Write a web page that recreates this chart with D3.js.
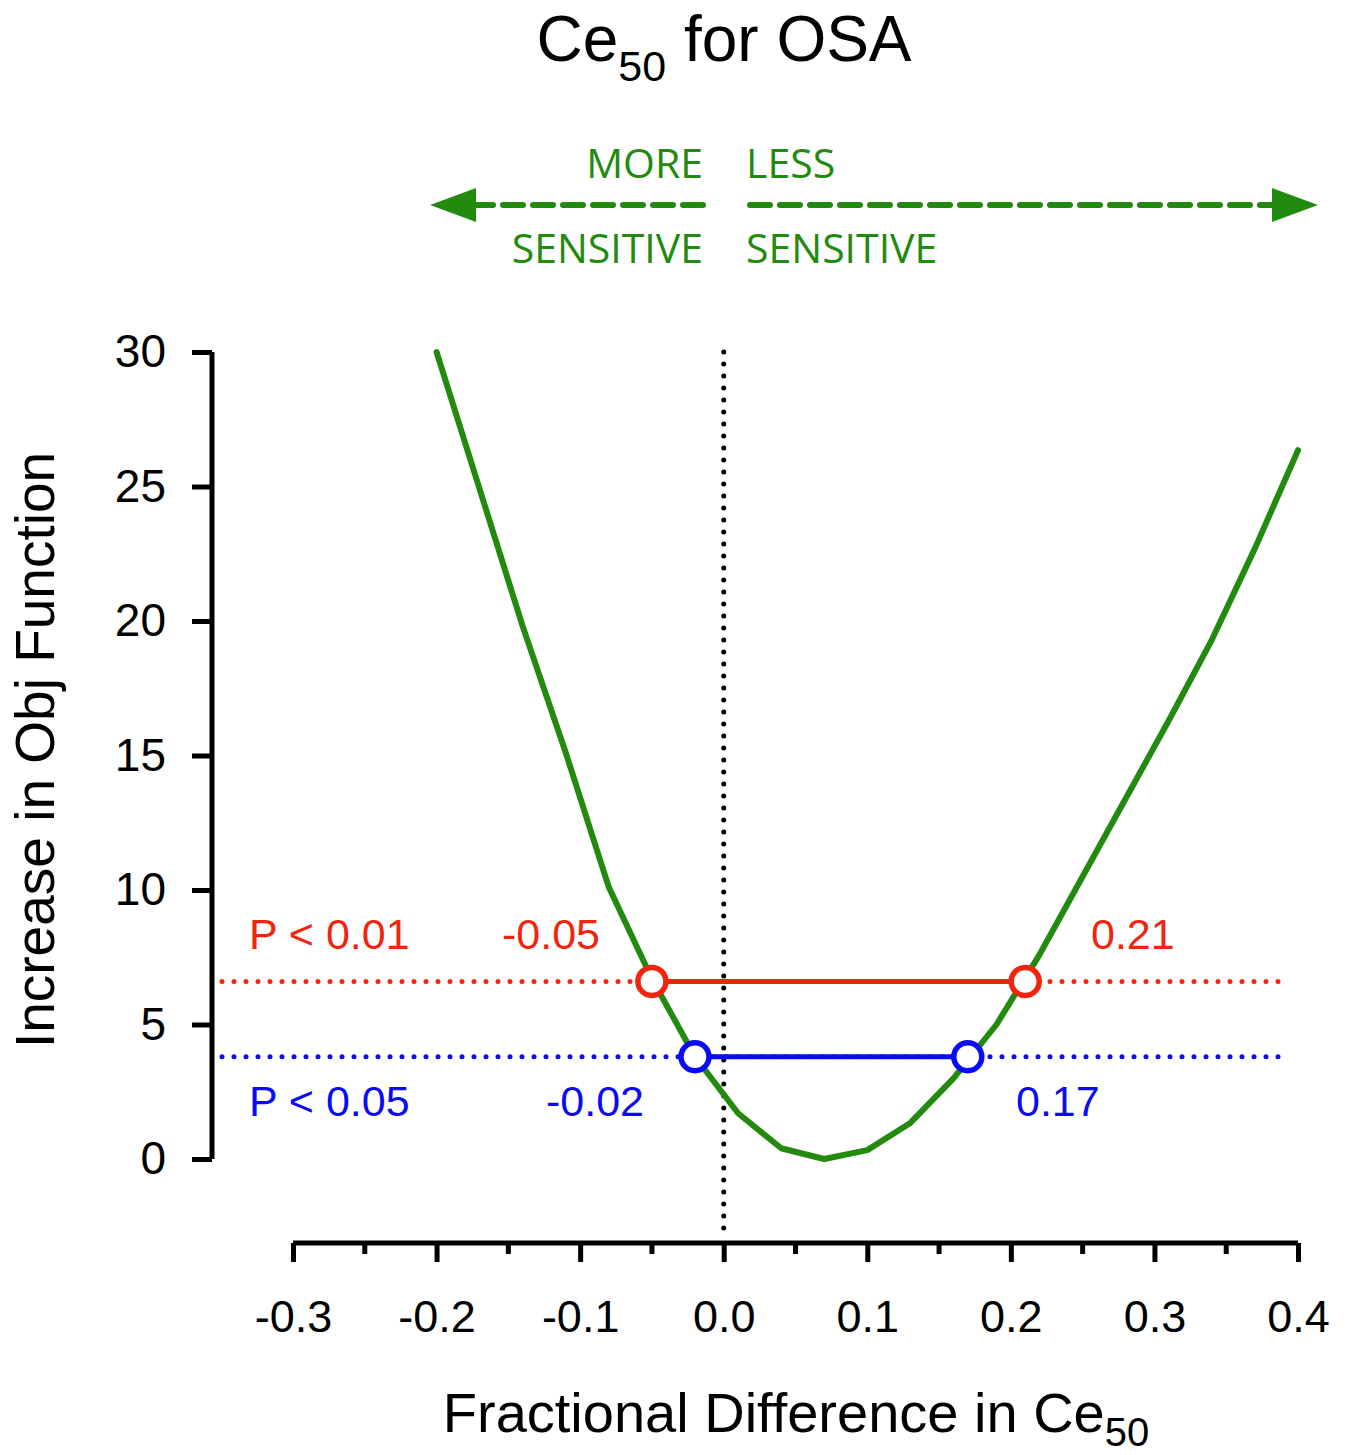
<!DOCTYPE html>
<html>
<head>
<meta charset="utf-8">
<script src="https://cdn.jsdelivr.net/npm/d3@7"></script>
<style>
  body { margin: 0; background: #fff; }
  svg text { font-family: "Liberation Sans", Arial, sans-serif; }
</style>
</head>
<body>
<div id="chart"></div>
<script>
// values
var fracDiff = [-0.20, -0.17, -0.14, -0.11, -0.08, -0.05, -0.02, 0.01, 0.04, 0.07,
                0.10, 0.13, 0.16, 0.19, 0.22, 0.25, 0.28, 0.31, 0.34, 0.37, 0.40];
var objIncrease = [30.0, 24.9, 19.8, 15.1, 10.1, 6.7, 3.8, 1.7, 0.4, 0.0,
                   0.33, 1.34, 3.0, 5.0, 7.6, 10.5, 13.4, 16.3, 19.3, 22.7, 26.35];

var xTicks = [-0.3, -0.2, -0.1, 0.0, 0.1, 0.2, 0.3, 0.4];
var xMinorTicks = [-0.25, -0.15, -0.05, 0.05, 0.15, 0.25, 0.35];
var yTicks = [0, 5, 10, 15, 20, 25, 30];

// confidence limits: label, threshold, lower, upper
var limitNames = ["P < 0.01", "P < 0.05"];
var limitLevels = [6.6, 3.8];
var limitLower = [-0.05, -0.02];
var limitUpper = [0.21, 0.17];
var limitColors = ["#f0250f", "#0a0af5"];

var green = "#238a10";

var width = 1346, height = 1455;
var svg = d3.select("#chart").append("svg")
  .attr("width", width)
  .attr("height", height);

var x = d3.scaleLinear().domain([-0.3, 0.4]).range([293, 1298]);
var y = d3.scaleLinear().domain([0, 30]).range([1159, 352]);

// title
var title = svg.append("text")
  .attr("x", 724).attr("y", 61)
  .attr("text-anchor", "middle")
  .attr("font-size", 64);
title.append("tspan").text("Ce");
title.append("tspan").attr("font-size", 43).attr("dy", 20).text("50");
title.append("tspan").attr("dy", -20).text(" for OSA");

// sensitivity arrows
var arrowY = 205;
function dashedArrow(x0, x1, tip){
  svg.append("line")
    .attr("x1", x0).attr("x2", x1)
    .attr("y1", arrowY).attr("y2", arrowY)
    .attr("stroke", green).attr("stroke-width", 6)
    .attr("stroke-linecap", "round")
    .attr("stroke-dasharray", "20 10");
  var dir = tip < x0 ? -1 : 1;
  var base = tip - dir * 46;
  svg.append("path")
    .attr("d", "M" + tip + "," + arrowY + "L" + base + "," + (arrowY - 17) + "L" + base + "," + (arrowY + 17) + "Z")
    .attr("fill", green);
}
dashedArrow(703, 472, 430);
dashedArrow(750, 1276, 1318);

var sens = [
  {t: "MORE", x: 703, y: 178, a: "end"},
  {t: "LESS", x: 746, y: 178, a: "start"},
  {t: "SENSITIVE", x: 703, y: 263, a: "end"},
  {t: "SENSITIVE", x: 746, y: 263, a: "start"}
];
svg.selectAll(".sens").data(sens).enter().append("text")
  .attr("class", "sens")
  .attr("x", function(d){ return d.x; })
  .attr("y", function(d){ return d.y; })
  .attr("text-anchor", function(d){ return d.a; })
  .attr("fill", green)
  .style("font-family", "'Open Sans', sans-serif")
  .attr("font-size", 41)
  .text(function(d){ return d.t; });

// y axis
var yAxis = svg.append("g")
  .attr("transform", "translate(212,0)")
  .call(d3.axisLeft(y).tickValues(yTicks).tickSize(20).tickPadding(26).tickFormat(d3.format("d")));
yAxis.select(".domain").attr("stroke-width", 5).attr("d", "M0," + y(30) + "V" + y(0));
yAxis.selectAll(".tick line").attr("stroke-width", 5);
yAxis.selectAll(".tick text").attr("font-size", 46).attr("fill", "#000")
  .style("font-family", "'Liberation Sans', Arial, sans-serif");

// x axis
var xAxis = svg.append("g")
  .attr("transform", "translate(0,1243)")
  .call(d3.axisBottom(x).tickValues(xTicks).tickSize(19).tickPadding(38)
    .tickFormat(function(d){ return d.toFixed(1); }));
xAxis.select(".domain").attr("stroke-width", 5).attr("d", "M" + x(-0.3) + ",0H" + x(0.4));
xAxis.selectAll(".tick line").attr("stroke-width", 5);
xAxis.selectAll(".tick text").attr("font-size", 45).attr("fill", "#000")
  .style("font-family", "'Liberation Sans', Arial, sans-serif");
xAxis.selectAll(".minor").data(xMinorTicks).enter().append("line")
  .attr("class", "minor")
  .attr("x1", function(d){ return x(d); }).attr("x2", function(d){ return x(d); })
  .attr("y1", 0).attr("y2", 11)
  .attr("stroke", "#000").attr("stroke-width", 5);

// axis titles
var xt = svg.append("text")
  .attr("x", 796).attr("y", 1432)
  .attr("text-anchor", "middle")
  .attr("font-size", 56);
xt.append("tspan").text("Fractional Difference in Ce");
xt.append("tspan").attr("font-size", 40).attr("dy", 14).text("50");

svg.append("text")
  .attr("transform", "translate(54,750) rotate(-90)")
  .attr("text-anchor", "middle")
  .attr("font-size", 55)
  .text("Increase in Obj Function");

// zero reference
svg.append("line")
  .attr("x1", x(0)).attr("x2", x(0))
  .attr("y1", y(30)).attr("y2", 1232)
  .attr("stroke", "#000").attr("stroke-width", 5)
  .attr("stroke-linecap", "round")
  .attr("stroke-dasharray", "0 12");

// profile curve
var curve = fracDiff.map(function(d, i){ return [d, objIncrease[i]]; });
svg.append("path")
  .datum(curve)
  .attr("fill", "none")
  .attr("stroke", green)
  .attr("stroke-width", 6)
  .attr("stroke-linecap", "round")
  .attr("stroke-linejoin", "round")
  .attr("d", d3.line().x(function(d){ return x(d[0]); }).y(function(d){ return y(d[1]); }));

// limits
limitNames.forEach(function(name, i){
  var c = limitColors[i], ly = y(limitLevels[i]);
  svg.append("line")
    .attr("x1", 222).attr("x2", 1290)
    .attr("y1", ly).attr("y2", ly)
    .attr("stroke", c).attr("stroke-width", 5)
    .attr("stroke-linecap", "round")
    .attr("stroke-dasharray", "0 12");
  svg.append("line")
    .attr("x1", x(limitLower[i])).attr("x2", x(limitUpper[i]))
    .attr("y1", ly).attr("y2", ly)
    .attr("stroke", c).attr("stroke-width", 5);
  svg.selectAll(".pt" + i).data([limitLower[i], limitUpper[i]]).enter().append("circle")
    .attr("cx", function(d){ return x(d); })
    .attr("cy", ly)
    .attr("r", 14)
    .attr("fill", "#fff")
    .attr("stroke", c).attr("stroke-width", 5.5);

  var ty = i == 0 ? ly - 32 : ly + 59;
  svg.append("text").attr("x", 249).attr("y", ty)
    .attr("fill", c).attr("font-size", 43).text(name);
  svg.append("text").attr("x", i == 0 ? 600 : 644).attr("y", ty)
    .attr("text-anchor", "end")
    .attr("fill", c).attr("font-size", 43).text(limitLower[i].toFixed(2));
  svg.append("text").attr("x", i == 0 ? 1091 : 1016).attr("y", ty)
    .attr("fill", c).attr("font-size", 43).text(limitUpper[i].toFixed(2));
});
</script>
</body>
</html>
